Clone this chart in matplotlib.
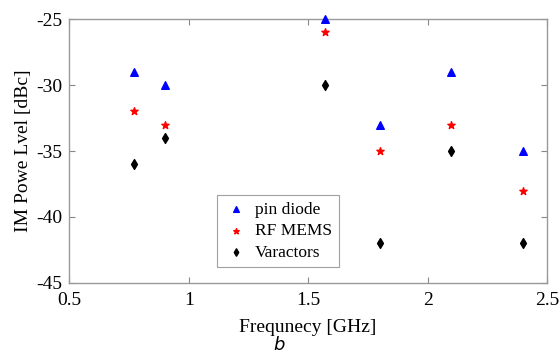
import numpy as np
import matplotlib
matplotlib.use("Agg")
import matplotlib.pyplot as plt

freq = [0.77, 0.9, 1.57, 1.8, 2.1, 2.4]
pin_diode = [-29, -30, -25, -33, -29, -35]
rf_mems = [-32, -33, -26, -35, -33, -38]
varactors = [-36, -34, -30, -42, -35, -42]

xticks = [0.5, 1, 1.5, 2, 2.5]
xticklabels = ["0.5", "1", "1.5", "2", "2.5"]
yticks = [-45, -40, -35, -30, -25]


def main():
    plt.rcParams['font.family'] = ['Liberation Serif', 'DejaVu Serif']
    plt.rcParams['axes.unicode_minus'] = False
    fig = plt.figure(figsize=(5.59, 3.63), dpi=100)
    ax = fig.add_axes([0.124, 0.221, 0.8546, 0.726])

    ax.scatter(freq, pin_diode, marker='^', c='b', s=30, label='pin diode', zorder=3, clip_on=False)
    ax.scatter(freq, rf_mems, marker='*', c='r', s=30, label='RF MEMS', zorder=3, clip_on=False)
    ax.scatter(freq, varactors, marker='d', c='k', s=25, label='Varactors', zorder=3, clip_on=False)

    ax.set_xlim(0.5, 2.5)
    ax.set_ylim(-45, -25)
    ax.set_xticks(xticks)
    ax.set_xticklabels(xticklabels)
    ax.set_yticks(yticks)
    ax.tick_params(direction='in', top=True, right=True, length=4, color='#888888',
                   labelsize=14)
    ax.tick_params(axis='x', pad=7)
    ax.tick_params(axis='y', pad=5)
    for sp in ax.spines.values():
        sp.set_color('#999999')
        sp.set_linewidth(1.0)

    ax.set_xlabel('Frequnecy [GHz]', fontsize=14, labelpad=7)
    ax.set_ylabel('IM Powe Lvel [dBc]', fontsize=14, labelpad=3)

    leg = ax.legend(loc='lower left', bbox_to_anchor=(0.309, 0.058, 0.256, 0.262), mode='expand',
                    fontsize=12.5, frameon=True, fancybox=False, handletextpad=0.4,
                    borderpad=0.4, labelspacing=0.3, handlelength=1.4, borderaxespad=0,
                    markerscale=0.75)
    leg.get_frame().set_edgecolor('#888888')
    leg.get_frame().set_linewidth(0.8)

    fig.text(0.5, 0.036, 'b', fontsize=13, style='italic', family='DejaVu Sans', ha='center')

    fig.savefig('out.png', dpi=100)


if __name__ == "__main__":
    main()
